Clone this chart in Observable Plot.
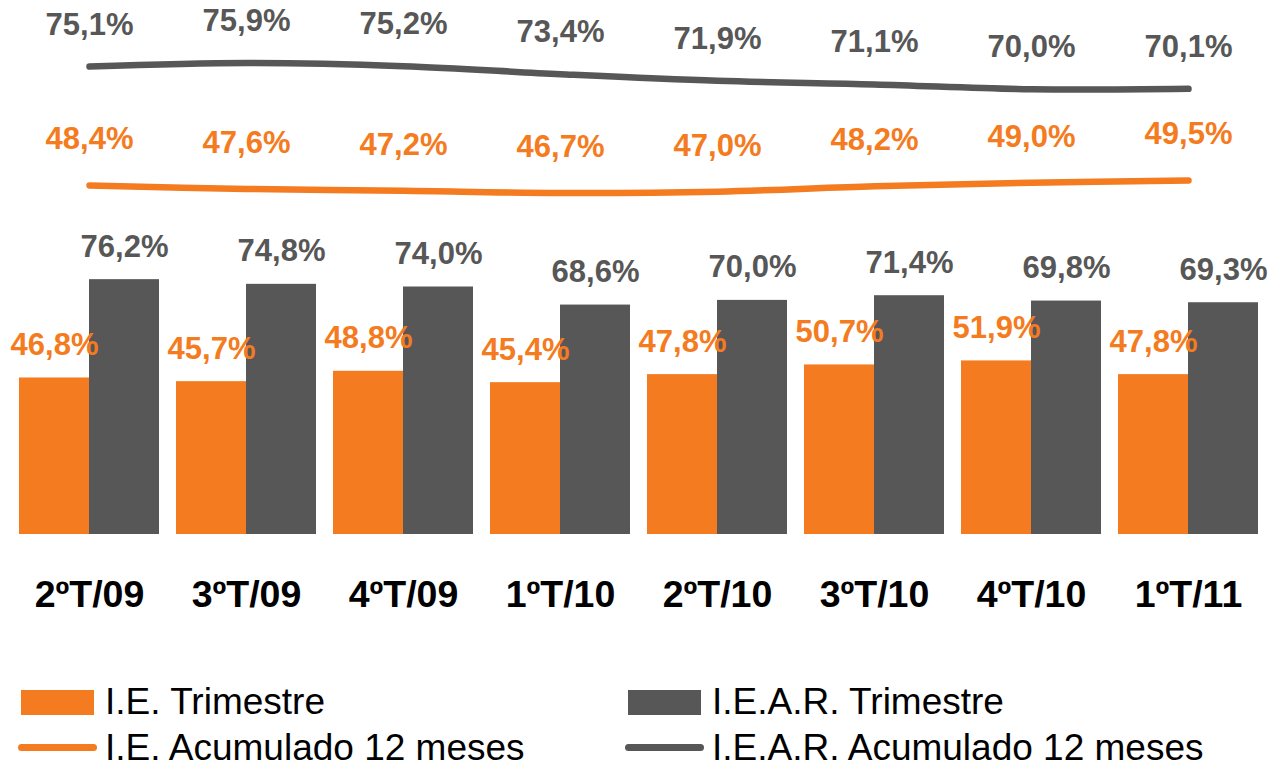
<!DOCTYPE html>
<html>
<head>
<meta charset="utf-8">
<script src="https://cdn.jsdelivr.net/npm/d3@7"></script>
<script src="https://cdn.jsdelivr.net/npm/@observablehq/plot@0.6"></script>
<style>
  html, body { margin: 0; padding: 0; background: #fff; }
  body { width: 1274px; height: 769px; overflow: hidden; font-family: "Liberation Sans", Arial, Helvetica, sans-serif; color: #000; }
  #chart svg { display: block; }
  .legend { position: relative; margin-top: 57px; height: 92px; }
  .item { position: absolute; display: flex; align-items: center; height: 50px; font-size: 37px; line-height: 0.85; color: #000; white-space: nowrap; }
  .rect { width: 73px; height: 25px; margin-right: 11px; }
  .ln { width: 79px; height: 7px; border-radius: 3.5px; margin-left: -3px; margin-right: 8px; }
</style>
</head>
<body>
<div id="chart"></div>
<div class="legend" id="legend"></div>
<script>
// ---- data ----
const categories = ["2ºT/09", "3ºT/09", "4ºT/09", "1ºT/10", "2ºT/10", "3ºT/10", "4ºT/10", "1ºT/11"];
const ieTrimestre = [46.8, 45.7, 48.8, 45.4, 47.8, 50.7, 51.9, 47.8];
const iearTrimestre = [76.2, 74.8, 74.0, 68.6, 70.0, 71.4, 69.8, 69.3];
const ieAcumulado = [48.4, 47.6, 47.2, 46.7, 47.0, 48.2, 49.0, 49.5];
const iearAcumulado = [75.1, 75.9, 75.2, 73.4, 71.9, 71.1, 70.0, 70.1];
const barSeries = ["I.E. Trimestre", "I.E.A.R. Trimestre"];
const lineSeries = ["I.E. Acumulado 12 meses", "I.E.A.R. Acumulado 12 meses"];

const ORANGE = "#F47B20";
const GRAY = "#575757";
const FONT = '"Liberation Sans", Arial, Helvetica, sans-serif';
const fmt = v => v.toFixed(1).replace(".", ",") + "%";

const bars = categories.flatMap((c, i) => [
  {cat: c, serie: barSeries[0], value: ieTrimestre[i]},
  {cat: c, serie: barSeries[1], value: iearTrimestre[i]}
]);
const lines = categories.flatMap((c, i) => [
  {cat: c, serie: lineSeries[0], value: ieAcumulado[i]},
  {cat: c, serie: lineSeries[1], value: iearAcumulado[i]}
]);

// ---- top: 12-month lines ----
const topPlot = Plot.plot({
  width: 1274, height: 215,
  marginLeft: 19, marginRight: 16, marginTop: 44.3, marginBottom: 1.6,
  style: {fontFamily: FONT, background: "transparent"},
  x: {type: "band", domain: categories, paddingInner: 0.11, paddingOuter: 0, axis: null},
  y: {domain: [42, 80], axis: null},
  color: {domain: lineSeries, range: [ORANGE, GRAY]},
  marks: [
    Plot.line(lines, {x: "cat", y: "value", z: "serie", stroke: "serie", strokeWidth: 6.5, strokeLinecap: "round", curve: "catmull-rom"}),
    Plot.text(lines.filter(d => d.serie === lineSeries[1]), {x: "cat", y: "value", text: d => fmt(d.value), fill: "serie", dy: -42, fontSize: 31, fontWeight: "bold"}),
    Plot.text(lines.filter(d => d.serie === lineSeries[0]), {x: "cat", y: "value", text: d => fmt(d.value), fill: "serie", dy: -46, fontSize: 31, fontWeight: "bold"})
  ]
});

// ---- bottom: quarterly bars ----
const barPlot = Plot.plot({
  width: 1274, height: 405,
  marginLeft: 19, marginRight: 16, marginTop: 18, marginBottom: 86,
  style: {fontFamily: FONT, background: "transparent", color: "#000"},
  fx: {domain: categories, paddingInner: 0.11, paddingOuter: 0, label: null},
  x: {domain: barSeries, padding: 0, axis: null},
  y: {domain: [0, 90], axis: null},
  color: {domain: barSeries, range: [ORANGE, GRAY]},
  marks: [
    Plot.barY(bars, {fx: "cat", x: "serie", y: "value", fill: "serie"}),
    Plot.text(bars, {fx: "cat", x: "serie", y: "value", text: d => fmt(d.value), fill: "serie", dy: -33, fontSize: 31, fontWeight: "bold"}),
    Plot.axisFx({anchor: "bottom", tickSize: 0, tickPadding: 45.5, fontSize: 37.5, fontWeight: "bold", label: null})
  ]
});

const chart = document.getElementById("chart");
chart.appendChild(topPlot);
chart.appendChild(barPlot);

// ---- legend ----
const legend = document.getElementById("legend");
const items = [
  {label: barSeries[0], color: ORANGE, kind: "rect", left: 21, top: 0},
  {label: barSeries[1], color: GRAY, kind: "rect", left: 628, top: 0},
  {label: lineSeries[0], color: ORANGE, kind: "ln", left: 21, top: 45.5},
  {label: lineSeries[1], color: GRAY, kind: "ln", left: 628, top: 45.5}
];
for (const it of items) {
  const d = document.createElement("div");
  d.className = "item";
  d.style.left = it.left + "px";
  d.style.top = it.top + "px";
  const sw = document.createElement("span");
  sw.className = it.kind;
  sw.style.background = it.color;
  const t = document.createElement("span");
  t.textContent = it.label;
  d.appendChild(sw);
  d.appendChild(t);
  legend.appendChild(d);
}
</script>
</body>
</html>
